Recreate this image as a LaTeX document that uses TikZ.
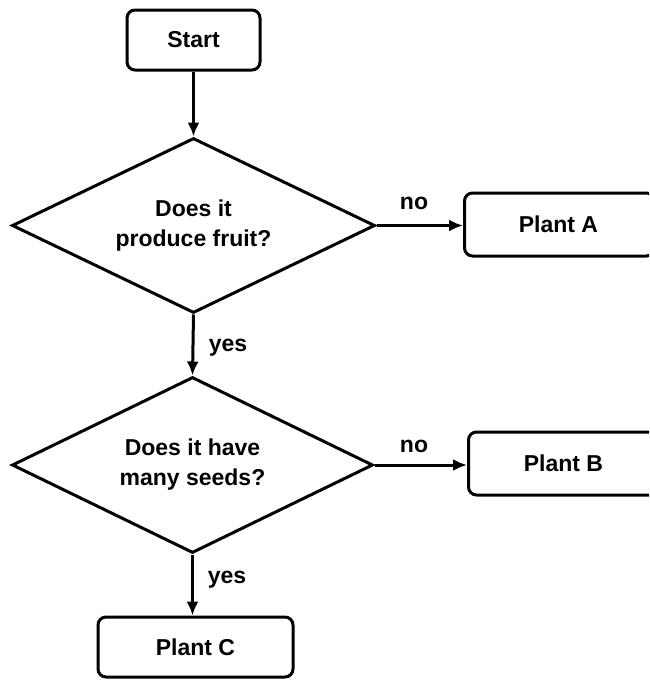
\documentclass[tikz,border=0pt]{standalone}
\usepackage{fontspec}
\setmainfont{Liberation Sans}
\usetikzlibrary{shapes.geometric,arrows.meta}
\begin{document}
\begin{tikzpicture}[x=1pt,y=-1pt,
  every node/.style={font=\fontsize{23}{30}\selectfont\bfseries},
  boxnode/.style={draw, line width=3pt, rounded corners=8pt, inner sep=0pt, align=center},
  decision/.style={draw, diamond, shape aspect=2, line width=3pt, inner sep=0pt, align=center},
  conn/.style={line width=3pt, -{Latex[length=14pt,width=12pt]}},
  lbl/.style={inner sep=0pt}]
\useasboundingbox (0,0) rectangle (649,680);
\clip (0,0) rectangle (649,680);
\node[boxnode, minimum width=133pt, minimum height=60pt] (start) at (193.5,40) {Start};
\node[decision, minimum width=363pt, minimum height=175pt] (d1) at (193.5,225.5) {Does it\\produce fruit?};
\node[boxnode, minimum width=190pt, minimum height=63pt, anchor=west] (pa) at (463,224.5) {\hspace*{-2pt}Plant A};
\node[decision, minimum width=361pt, minimum height=176pt] (d2) at (192.5,465) {Does it have\\many seeds?};
\node[boxnode, minimum width=190pt, minimum height=63pt, anchor=west] (pb) at (467,463.5) {Plant B};
\node[boxnode, minimum width=195pt, minimum height=60pt] (pc) at (195.5,647) {Plant C};
\node[lbl] (no1) at (414,203) {no};
\node[lbl] (yes1) at (228,348) {yes};
\node[lbl] (no2) at (414,446) {no};
\node[lbl] (yes2) at (227,580) {yes};
\draw[conn] (start.south) -- (d1.north);
\draw[conn] (d1.east) -- (d1.east -| pa.west);
\draw[conn] (d1.south) -- (d2.north);
\draw[conn] (d2.east) -- (d2.east -| pb.west);
\draw[conn] (d2.south) -- (d2.south |- pc.north);
\end{tikzpicture}
\end{document}
